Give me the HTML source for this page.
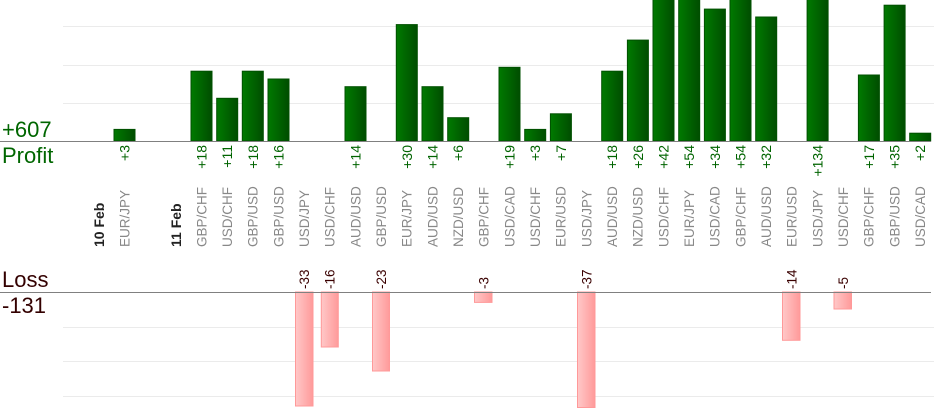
<!DOCTYPE html>
<html><head><meta charset="utf-8"><style>
html,body{margin:0;padding:0;background:#fff;width:934px;height:420px;overflow:hidden}
svg{display:block;font-family:"Liberation Sans",Arial,sans-serif}
.v{fill:#006400;font-size:14px}
.p{fill:#888;font-size:13.5px}
.d{fill:#222;font-size:14px;font-weight:bold}
.l{fill:#3a0000;font-size:13.5px}
</style></head><body>
<svg width="934" height="420" viewBox="0 0 934 420">
<defs>
<linearGradient id="g" x1="0" x2="1" y1="0" y2="0"><stop offset="0" stop-color="#007a00"/><stop offset="1" stop-color="#004d00"/></linearGradient>
<linearGradient id="r" x1="0" x2="1" y1="0" y2="0"><stop offset="0" stop-color="#ffc8c8"/><stop offset="1" stop-color="#ff9a9a"/></linearGradient>
</defs>
<g stroke="#ebebeb" stroke-width="1">
<line x1="63" x2="934" y1="26.5" y2="26.5"/><line x1="63" x2="934" y1="65.5" y2="65.5"/><line x1="63" x2="934" y1="103.5" y2="103.5"/>
<line x1="63" x2="934" y1="327.5" y2="327.5"/><line x1="63" x2="934" y1="361.5" y2="361.5"/><line x1="63" x2="934" y1="396.5" y2="396.5"/>
</g>
<g fill="url(#g)" stroke="#005000" stroke-width="1">
<rect x="114" y="129.4" width="21" height="11.6"/>
<rect x="191" y="71.2" width="21" height="69.8"/>
<rect x="216.7" y="98.3" width="21" height="42.7"/>
<rect x="242.3" y="71.2" width="21" height="69.8"/>
<rect x="268" y="79" width="21" height="62"/>
<rect x="345" y="86.7" width="21" height="54.3"/>
<rect x="396.3" y="24.6" width="21" height="116.4"/>
<rect x="422" y="86.7" width="21" height="54.3"/>
<rect x="447.7" y="117.7" width="21" height="23.3"/>
<rect x="499" y="67.3" width="21" height="73.7"/>
<rect x="524.7" y="129.4" width="21" height="11.6"/>
<rect x="550.4" y="113.8" width="21" height="27.2"/>
<rect x="601.7" y="71.2" width="21" height="69.8"/>
<rect x="627.4" y="40.1" width="21" height="100.9"/>
<rect x="653" y="-2" width="21" height="143"/>
<rect x="678.7" y="-2" width="21" height="143"/>
<rect x="704.4" y="9.1" width="21" height="131.9"/>
<rect x="730" y="-2" width="21" height="143"/>
<rect x="755.7" y="17" width="21" height="124"/>
<rect x="807.1" y="-2" width="21" height="143"/>
<rect x="858.4" y="75" width="21" height="66"/>
<rect x="884.1" y="5.2" width="21" height="135.8"/>
<rect x="909.7" y="133.2" width="21" height="7.8"/>
</g>
<g fill="url(#r)" stroke="#ff9999" stroke-width="1">
<rect x="295.5" y="292" width="17.5" height="114"/>
<rect x="321.3" y="292" width="17" height="55"/>
<rect x="372.5" y="292" width="17" height="79"/>
<rect x="474.5" y="292" width="17.5" height="10.4"/>
<rect x="577.5" y="292" width="17.5" height="115.5"/>
<rect x="782.5" y="292" width="17.5" height="48.3"/>
<rect x="834" y="292" width="17.5" height="17"/>
</g>
<line x1="0" x2="931" y1="141.5" y2="141.5" stroke="#808080"/>
<line x1="0" x2="931" y1="292.5" y2="292.5" stroke="#808080"/>
<text x="2" y="137" fill="#006600" font-size="22">+607</text>
<text x="2" y="163" fill="#006600" font-size="22">Profit</text>
<text x="2" y="287" fill="#330000" font-size="22">Loss</text>
<text x="2" y="313" fill="#330000" font-size="22">-131</text>
<g class="v" text-anchor="end">
<text transform="translate(129.5,145) rotate(-90)">+3</text>
<text transform="translate(206.5,145) rotate(-90)">+18</text>
<text transform="translate(232.2,145) rotate(-90)">+11</text>
<text transform="translate(257.8,145) rotate(-90)">+18</text>
<text transform="translate(283.5,145) rotate(-90)">+16</text>
<text transform="translate(360.5,145) rotate(-90)">+14</text>
<text transform="translate(411.8,145) rotate(-90)">+30</text>
<text transform="translate(437.5,145) rotate(-90)">+14</text>
<text transform="translate(463.2,145) rotate(-90)">+6</text>
<text transform="translate(514.5,145) rotate(-90)">+19</text>
<text transform="translate(540.2,145) rotate(-90)">+3</text>
<text transform="translate(565.9,145) rotate(-90)">+7</text>
<text transform="translate(617.2,145) rotate(-90)">+18</text>
<text transform="translate(642.9,145) rotate(-90)">+26</text>
<text transform="translate(668.5,145) rotate(-90)">+42</text>
<text transform="translate(694.2,145) rotate(-90)">+54</text>
<text transform="translate(719.9,145) rotate(-90)">+34</text>
<text transform="translate(745.5,145) rotate(-90)">+54</text>
<text transform="translate(771.2,145) rotate(-90)">+32</text>
<text transform="translate(822.6,145) rotate(-90)">+134</text>
<text transform="translate(873.9,145) rotate(-90)">+17</text>
<text transform="translate(899.6,145) rotate(-90)">+35</text>
<text transform="translate(925.2,145) rotate(-90)">+2</text>
</g>
<g class="d">
<text transform="translate(104,247) rotate(-90)">10 Feb</text>
<text transform="translate(181,247) rotate(-90)">11 Feb</text>
</g>
<g class="p">
<text transform="translate(129.3,247) rotate(-90)">EUR/JPY</text>
<text transform="translate(206.3,247) rotate(-90)">GBP/CHF</text>
<text transform="translate(232,247) rotate(-90)">USD/CHF</text>
<text transform="translate(257.6,247) rotate(-90)">GBP/USD</text>
<text transform="translate(283.3,247) rotate(-90)">GBP/USD</text>
<text transform="translate(309,247) rotate(-90)">USD/JPY</text>
<text transform="translate(334.6,247) rotate(-90)">USD/CHF</text>
<text transform="translate(360.3,247) rotate(-90)">AUD/USD</text>
<text transform="translate(386,247) rotate(-90)">GBP/USD</text>
<text transform="translate(411.6,247) rotate(-90)">EUR/JPY</text>
<text transform="translate(437.3,247) rotate(-90)">AUD/USD</text>
<text transform="translate(463,247) rotate(-90)">NZD/USD</text>
<text transform="translate(488.7,247) rotate(-90)">GBP/CHF</text>
<text transform="translate(514.3,247) rotate(-90)">USD/CAD</text>
<text transform="translate(540,247) rotate(-90)">USD/CHF</text>
<text transform="translate(565.7,247) rotate(-90)">EUR/USD</text>
<text transform="translate(591.3,247) rotate(-90)">USD/JPY</text>
<text transform="translate(617,247) rotate(-90)">AUD/USD</text>
<text transform="translate(642.7,247) rotate(-90)">NZD/USD</text>
<text transform="translate(668.3,247) rotate(-90)">USD/CHF</text>
<text transform="translate(694,247) rotate(-90)">EUR/JPY</text>
<text transform="translate(719.7,247) rotate(-90)">USD/CAD</text>
<text transform="translate(745.3,247) rotate(-90)">GBP/CHF</text>
<text transform="translate(771,247) rotate(-90)">AUD/USD</text>
<text transform="translate(796.7,247) rotate(-90)">EUR/USD</text>
<text transform="translate(822.4,247) rotate(-90)">USD/JPY</text>
<text transform="translate(848,247) rotate(-90)">USD/CHF</text>
<text transform="translate(873.7,247) rotate(-90)">GBP/CHF</text>
<text transform="translate(899.4,247) rotate(-90)">GBP/USD</text>
<text transform="translate(925,247) rotate(-90)">USD/CAD</text>
</g>
<g class="l">
<text transform="translate(309,289) rotate(-90)">-33</text>
<text transform="translate(334.6,289) rotate(-90)">-16</text>
<text transform="translate(386,289) rotate(-90)">-23</text>
<text transform="translate(488.7,289) rotate(-90)">-3</text>
<text transform="translate(591.3,289) rotate(-90)">-37</text>
<text transform="translate(796.7,289) rotate(-90)">-14</text>
<text transform="translate(848,289) rotate(-90)">-5</text>
</g>
</svg>
</body></html>
